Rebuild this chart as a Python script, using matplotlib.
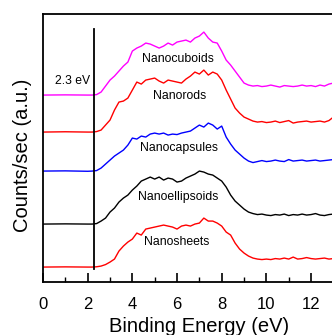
import matplotlib
matplotlib.use("Agg")
import matplotlib.pyplot as plt
from matplotlib.ticker import MultipleLocator

plt.rcParams['font.family'] = ['Liberation Sans', 'DejaVu Sans']

# binding energy grid (eV)
energy = [0.0, 1.0, 2.0, 2.2, 2.4, 2.6, 2.8, 3.0, 3.2, 3.4, 3.6, 3.8, 4.0, 4.2, 4.4,
          4.6, 4.8, 5.0, 5.2, 5.4, 5.6, 5.8, 6.0, 6.2, 6.4, 6.6, 6.8, 7.0, 7.2, 7.4,
          7.6, 7.8, 8.0, 8.2, 8.4, 8.6, 8.8, 9.0, 9.2, 9.4, 9.6, 9.8, 10.0, 10.2, 10.4,
          10.6, 10.8, 11.0, 11.2, 11.4, 11.6, 11.8, 12.0, 12.2, 12.4, 12.6, 12.8, 13.0,
          13.2, 13.4, 13.6, 13.8, 14.0]

# stacked spectra (arbitrary units, offsets included)
nanocuboids = [187, 187.2, 187, 187, 187.5, 190, 196, 202, 206, 211, 216, 220, 231, 234, 236,
               239, 238, 236, 234, 236, 239, 237, 240, 241, 242, 240, 244, 246, 250, 244,
               240, 239, 231, 222, 217, 211, 205, 199, 197, 196, 196.5, 195.5, 196, 197, 196,
               195, 196.5, 196, 195.5, 196, 197, 196, 196.5, 195.5, 197, 196, 198, 199,
               197, 198, 197, 198, 197]
nanorods = [150, 150.3, 150, 150, 150.5, 152, 157, 162, 172, 180, 181, 184, 192, 200, 198,
            202, 203, 204, 201, 199, 202, 201, 200, 199, 203, 206, 210, 208, 212, 207,
            210, 208, 202, 192, 183, 174, 169, 165, 163, 161, 160, 160.5, 159.5, 160, 161,
            159.5, 160.5, 161.5, 159, 160, 160.5, 161, 160, 160.5, 161, 160, 161.5, 165,
            163, 164, 162, 163, 162]
nanocapsules = [111, 111.2, 110.8, 111, 111.5, 114, 118, 122, 126, 129, 132, 137, 144, 143, 146,
                145, 148, 149, 148, 149, 147, 148, 147.5, 149, 150, 151, 154, 157, 155, 159,
                157, 153, 156, 145, 138, 132, 128, 124, 121, 119.5, 120.5, 121.5, 120.5, 121, 122,
                121, 120.5, 122.5, 121, 121.5, 122, 121, 121.5, 122, 121, 121.5, 122, 122.5,
                122, 121.5, 122, 121.5, 122]
nanoellipsoids = [58, 58.2, 58, 58, 58.5, 61, 64, 70, 74, 80, 84, 87, 92, 96, 101,
                  103, 105, 103, 105, 102, 104, 103, 100, 101, 104, 106, 108, 111, 110, 108,
                  107, 104, 101, 95, 87, 81, 77, 73, 70, 68.5, 67.5, 68, 67, 66.5, 67.5,
                  67, 68, 66.5, 67.5, 67, 68, 67, 67.5, 68.5, 67, 66.5, 67.5, 68,
                  67.5, 68, 67, 68, 67.5]
nanosheets = [15, 15.2, 15, 15, 15.3, 16, 17.5, 20, 23, 31, 36, 40, 43, 49, 47,
              53, 54, 55, 56, 57, 56, 55, 53, 56, 57, 56, 58, 59, 64, 61,
              61, 59, 56, 50, 47, 39, 33, 29, 26, 24, 23, 22.5, 23, 22.5, 23.5,
              23, 24, 23, 25, 23, 23.5, 24.5, 23.5, 23, 23.5, 24, 23, 23.5,
              23, 24, 23, 23.5, 23]

series = [nanocuboids, nanorods, nanocapsules, nanoellipsoids, nanosheets]
colors = ['#ff00ff', '#ff0000', '#0000ff', '#000000', '#ff0000']
names = ['Nanocuboids', 'Nanorods', 'Nanocapsules', 'Nanoellipsoids', 'Nanosheets']
label_x = [6.05, 6.1, 6.1, 6.05, 6.0]
label_y = [223, 186, 134, 85, 40]

gap_energy = 2.3

fig = plt.figure(figsize=(3.32, 3.35), dpi=100)
ax = fig.add_axes([0.1295, 0.158, 0.942, 0.8])

for ys, c in zip(series, colors):
    ax.plot(energy, ys, color=c, lw=1.0)

for name, lx, ly in zip(names, label_x, label_y):
    ax.text(lx, ly, name, ha='center', va='center', fontsize=8.8)

ax.plot([gap_energy, gap_energy], [13, 253], color='black', lw=1.3)
ax.text(1.32, 201, '%.1f eV' % gap_energy, ha='center', va='center', fontsize=8.7)

ax.set_xlim(0, 14)
ax.set_ylim(0, 268)
# only ticks that fall inside the visible picture
ax.set_xticks([0, 2, 4, 6, 8, 10, 12])
ax.set_xticks([1, 3, 5, 7, 9, 11, 13], minor=True)
ax.tick_params(axis='x', which='major', direction='in', length=6.5, width=1.2,
               labelsize=12, pad=11)
ax.tick_params(axis='x', which='minor', direction='in', length=3.5, width=1.0)
ax.set_yticks([])
for s in ax.spines.values():
    s.set_linewidth(1.3)

ax.set_xlabel('Binding Energy (eV)', fontsize=14.5, labelpad=3)
ax.set_ylabel('Counts/sec (a.u.)', fontsize=14.5, va='center')
ax.yaxis.set_label_coords(-0.067, 0.474)

fig.savefig('out.png', dpi=100)
